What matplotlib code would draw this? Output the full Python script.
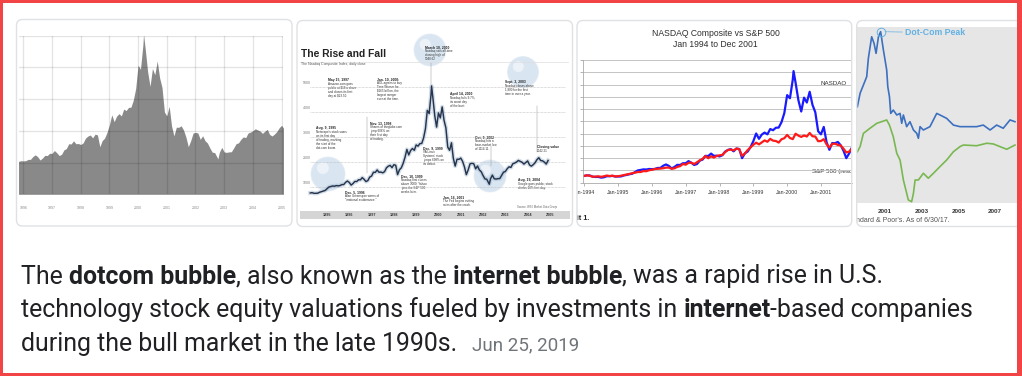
import matplotlib
matplotlib.use("Agg")
import matplotlib.pyplot as plt
from matplotlib.patches import FancyBboxPatch, Rectangle, Circle
from matplotlib.font_manager import FontProperties
from matplotlib.transforms import blended_transform_factory

W, H = 1022, 376

# ---------------------------------------------------------------- data
# Nasdaq Composite month-end closes, Dec 1993 .. Sep 2005 (first value at x=1994.0)
nasdaq_start = 1994.0
nasdaq_close = [
    776.8,
    800.5, 792.5, 743.5, 733.8, 735.2, 706.0, 722.2, 765.6, 764.3, 777.5, 750.3, 752.0,
    755.2, 793.7, 817.2, 844.0, 864.6, 933.5, 1001.2, 1020.1, 1043.5, 1036.1, 1059.2, 1052.1,
    1059.8, 1100.1, 1101.4, 1190.5, 1243.4, 1185.0, 1080.6, 1141.5, 1226.9, 1221.5, 1292.6, 1291.0,
    1379.9, 1309.0, 1221.7, 1260.8, 1400.3, 1442.1, 1593.8, 1587.3, 1685.7, 1593.6, 1600.6, 1570.4,
    1619.4, 1770.5, 1835.7, 1868.4, 1778.9, 1894.7, 1872.4, 1499.3, 1693.8, 1771.4, 1949.5, 2192.7,
    2505.9, 2288.0, 2461.4, 2542.9, 2470.5, 2686.1, 2638.5, 2739.4, 2746.2, 2966.4, 3336.2, 4069.3,
    3940.4, 4696.7, 4572.8, 3860.7, 3400.9, 3966.1, 3767.0, 4206.4, 3672.8, 3369.6, 2597.9, 2470.5,
    2772.7, 2151.8, 1840.3, 2116.2, 2110.5, 2160.5, 2027.1, 1805.4, 1498.8, 1690.2, 1930.6, 1950.4,
    1934.0, 1731.5, 1845.4, 1688.2, 1615.7, 1463.2, 1328.3, 1314.9, 1172.1, 1329.8, 1478.8, 1335.5,
    1320.9, 1337.5, 1341.2, 1464.3, 1595.9, 1622.8, 1735.0, 1810.5, 1786.9, 1932.2, 1960.3, 2003.4,
    2066.2, 2029.8, 1994.2, 1920.2, 1986.7, 2047.8, 1887.4, 1838.1, 1896.8, 1975.0, 2096.8, 2175.4,
    2062.4, 2051.7, 1999.2, 1921.7, 2068.2, 2057.0, 2184.8, 2152.1, 2151.7,
]
nasdaq_extreme_x = [2000.19, 2002.78]
nasdaq_extreme = [5048.6, 1114.1]

# S&P 500 month-end closes, Dec 1993 .. Dec 2001
sp_close = [
    466.5,
    481.6, 467.1, 445.8, 450.9, 456.5, 444.3, 458.3, 475.5, 462.7, 472.4, 453.7, 459.3,
    470.4, 487.4, 500.7, 514.7, 533.4, 544.8, 562.1, 561.9, 584.4, 581.5, 605.4, 615.9,
    636.0, 640.4, 645.5, 654.2, 669.1, 670.6, 640.0, 652.0, 687.3, 705.3, 757.0, 740.7,
    786.2, 790.8, 757.1, 801.3, 848.3, 885.1, 954.3, 899.5, 947.3, 914.6, 955.4, 970.4,
    980.3, 1049.3, 1101.8, 1111.8, 1090.8, 1133.8, 1120.7, 957.3, 1017.0, 1098.7, 1163.6, 1229.2,
    1279.6, 1238.3, 1286.4, 1335.2, 1301.8, 1372.7, 1328.7, 1320.4, 1282.7, 1362.9, 1388.9, 1469.3,
    1394.5, 1366.4, 1498.6, 1452.4, 1420.6, 1454.6, 1430.8, 1517.7, 1436.5, 1429.4, 1315.2, 1320.3,
    1366.0, 1239.9, 1160.3, 1249.5, 1255.8, 1224.4, 1211.2, 1133.6, 1040.9, 1059.8, 1139.5, 1148.1,
]

# panel 1 / 2 / 3 tick labels
p1_years = [1996, 1997, 1998, 1999, 2000, 2001, 2002, 2003, 2004, 2005]
p2_years = [1995, 1996, 1997, 1998, 1999, 2000, 2001, 2002, 2003, 2004, 2005]
p2_levels = [1000, 2000, 3000, 4000, 5000]
p3_years = [1994, 1995, 1996, 1997, 1998, 1999, 2000, 2001]
p3_levels = [500, 1000, 1500, 2000, 2500, 3000, 3500, 4000, 4500, 5000, 5500]

# panel 4 (valuation lines, 0-100 scale)
p4_blue_x = [1999.49, 1999.64, 1999.82, 2000.0, 2000.09, 2000.27, 2000.4, 2000.51, 2000.64,
             2000.76, 2000.91, 2001.09, 2001.15, 2001.24, 2001.31, 2001.45, 2001.64, 2001.82,
             2001.91, 2002.0, 2002.18, 2002.36, 2002.55, 2002.73, 2002.82, 2002.91, 2003.09,
             2003.45, 2003.82, 2004.0, 2004.36, 2004.73, 2005.09, 2005.45, 2006.0, 2006.36,
             2006.73, 2007.09, 2007.45, 2007.82, 2008.09]
p4_blue_y = [54.7, 62.3, 67.0, 71.7, 82.1, 94.3, 90.6, 84.9, 94.3, 97.2, 86.8, 75.5, 66.0,
             60.4, 50.9, 52.8, 50.0, 50.9, 45.3, 50.0, 43.4, 46.2, 41.5, 39.6, 36.8, 43.4,
             41.5, 43.4, 50.9, 50.0, 48.1, 44.3, 43.4, 43.4, 43.4, 44.3, 41.5, 44.3, 42.5,
             47.2, 46.2]
p4_green_x = [1999.49, 1999.64, 1999.82, 2000.18, 2000.55, 2001.09, 2001.24, 2001.45, 2001.64,
              2001.82, 2002.0, 2002.18, 2002.27, 2002.45, 2002.55, 2002.64, 2002.82, 2003.09,
              2003.36, 2003.64, 2004.0, 2004.36, 2004.73, 2005.09, 2005.27, 2006.0, 2006.55,
              2006.91, 2007.27, 2007.64, 2008.09]
p4_green_y = [29.2, 32.1, 39.6, 42.5, 45.3, 47.2, 44.3, 37.7, 28.3, 24.5, 13.2, 5.7, 1.9, 0.9,
              5.7, 13.2, 13.2, 17.0, 14.2, 17.0, 20.8, 24.5, 29.2, 32.1, 33.0, 32.6, 34.0,
              33.6, 32.1, 30.6, 33.0]
p4_years = [2001, 2003, 2005, 2007]

# paragraph
para_lines = [
    [("The ", False), ("dotcom bubble", True), (", also known as the ", False),
     ("internet bubble", True), (", was a rapid rise in U.S.", False)],
    [("technology stock equity valuations fueled by investments in ", False),
     ("internet", True), ("-based companies", False)],
    [("during the bull market in the late 1990s.", False)],
]
para_date = "Jun 25, 2019"

# ---------------------------------------------------------------- helpers
nas_x = [nasdaq_start + i / 12 for i in range(len(nasdaq_close))]
nas_pts = sorted(zip(nas_x + nasdaq_extreme_x, nasdaq_close + nasdaq_extreme))
sp_x = [nasdaq_start + i / 12 for i in range(len(sp_close))]
sp_scale = nasdaq_close[0] / sp_close[0]
sp_rescaled = [v * sp_scale for v in sp_close]


def series(lo, hi):
    xs = [p[0] for p in nas_pts if lo <= p[0] <= hi]
    ys = [p[1] for p in nas_pts if lo <= p[0] <= hi]
    return xs, ys


fig = plt.figure(figsize=(W / 100, H / 100), dpi=100)
fig.patch.set_facecolor("white")


def px_axes(x0, y0, x1, y1):
    return fig.add_axes([x0 / W, 1 - y1 / H, (x1 - x0) / W, (y1 - y0) / H])


def canvas(x0, y0, x1, y1):
    ax = px_axes(x0, y0, x1, y1)
    ax.set_xlim(x0, x1)
    ax.set_ylim(y1, y0)
    ax.axis("off")
    return ax


SANS = "Liberation Sans"

# ---------------------------------------------------------------- panel 1
c1 = canvas(16, 19, 292, 226)
a1 = px_axes(19, 35.7, 283, 194.3)
a1.set_facecolor("none")
x1s, y1s = series(1995.8, 2005.1)
a1.fill_between(x1s, y1s, 0, color="#898989", lw=0, zorder=1)
a1.set_xlim(1995.85, 2005.05)
a1.set_ylim(0, 5000)
a1.set_xticks(p1_years)
a1.set_xticklabels([str(y) for y in p1_years], fontsize=2.6, color="#8a8a8a", family=SANS)
a1.set_yticks(range(0, 5001, 1000))
a1.set_yticklabels([])
a1.tick_params(length=0, pad=8.5)
a1.grid(True, color="k", alpha=0.11, lw=0.9)
a1.set_axisbelow(False)
for s in a1.spines.values():
    s.set_visible(False)

# ---------------------------------------------------------------- panel 2
c2 = canvas(297, 19, 572, 226)
a2 = px_axes(300, 66, 568, 211)
a2.set_facecolor("none")
a2.axis("off")
a2.set_xlim(1994.29, 2006.31)
a2.set_ylim(44, 5844)
a2.hlines(p2_levels, 1994.74, 2006.17, colors="#bbbbbb", linestyles=(0, (1, 1)), lw=0.5)
for v in p2_levels:
    a2.text(1994.42, v + 90, str(v), fontsize=2.5, color="#777777", va="bottom", family=SANS)
x2s, y2s = series(1994.74, 2005.42)
a2.plot(x2s, y2s, color="#9fb6cc", lw=3.0, alpha=0.45, solid_joinstyle="round")
a2.plot(x2s, y2s, color="#26344d", lw=1.05)

c2.add_patch(Rectangle((300, 211), 270, 7.5, fc="#d5d5d5", ec="none"))
bt2 = blended_transform_factory(a2.transData, c2.transData)
for y in p2_years:
    a2.text(y + 0.5, 214.8, str(y), transform=bt2, fontsize=2.7, fontweight="bold",
            color="#333333", ha="center", va="center", family=SANS, clip_on=False)

c2.plot([300, 568], [62, 62], color="#dddddd", lw=0.5)
c2.text(300.7, 54, "The Rise and Fall", fontsize=7.4, fontweight="bold", color="#222222",
        va="center", family=SANS, clip_on=True)
c2.text(300.7, 64.5, "The Nasdaq Composite Index, daily close", fontsize=2.5,
        color="#555555", va="center", family=SANS, clip_on=True)

p2_bubbles = [(430, 50, 16), (523, 72, 15.5), (328, 174, 17), (490, 176, 16)]
for bx, by, br in p2_bubbles:
    c2.add_patch(Circle((bx, by), br, fc="#c3d7e9", ec="#e2ebf3", lw=0.8, alpha=0.62, zorder=1))
    c2.add_patch(Circle((bx - br * 0.3, by - br * 0.35), br * 0.35, fc="white", ec="none",
                        alpha=0.5, zorder=1.1))

p2_leaders = [(367, 117, 173), (431, 63, 84), (491, 146, 166), (537, 106, 152)]
for lx, ly0, ly1 in p2_leaders:
    c2.plot([lx, lx], [ly0, ly1], color="#8a8a8a", lw=0.3, zorder=2)

p2_notes = [
    (328, 78, "May 15, 1997", "Amazon.com goes\npublic at $18 a share\nand closes its first\nday at $23.50."),
    (377, 77, "Jan. 10, 2000:", "AOL agrees to buy\nTime Warner for\n$165 billion, the\nlargest merger\never at the time."),
    (425, 45, "March 10, 2000", "Nasdaq sets all-time\nclosing high of\n5048.62"),
    (450, 92, "April 14, 2000", "Nasdaq falls 9.7%,\nits worst day\nof the bust."),
    (505, 80, "Sept. 3, 2003", "Nasdaq closes above\n1,800 for the first\ntime in over a year."),
    (316, 126, "Aug. 9, 1995", "Netscape's stock soars\non its first day\nof trading, marking\nthe start of the\ndot-com boom."),
    (370, 121, "Nov. 13, 1998", "Shares of theglobe.com\njump 606% on\ntheir first day\nof trading."),
    (423, 146, "Dec. 9, 1999", "VA Linux\nSystems' stock\njumps 698% on\nits debut."),
    (475, 135, "Oct. 9, 2002", "Nasdaq hits a\nbear-market low\nof 1114.11."),
    (537, 145, "Closing value", "2042.21"),
    (345, 190, "Dec. 5, 1996", "Alan Greenspan warns of\n\"irrational exuberance.\""),
    (401, 174, "Dec. 10, 1999", "Nasdaq first closes\nabove 3000; Yahoo\njoins the S&P 500\nweeks later."),
    (443, 195, "Jan. 16, 2001", "The Fed begins cutting\nrates after the crash."),
    (518, 178, "Aug. 19, 2004", "Google goes public; stock\nclimbs 18% first day."),
]
for nx, ny, head, body in p2_notes:
    c2.text(nx, ny, head, fontsize=2.4, fontweight="bold", color="#222222", va="top",
            family=SANS, clip_on=True, zorder=3)
    c2.text(nx, ny + 3.7, body, fontsize=2.2, color="#333333", va="top", linespacing=1.05,
            family=SANS, clip_on=True, zorder=3)
c2.text(517, 207, "Source: WSJ Market Data Group", fontsize=2.0, color="#666666",
        va="center", family=SANS, clip_on=True)

# ---------------------------------------------------------------- panel 3
c3 = canvas(577, 19, 852, 226)
a3 = px_axes(583.3, 60, 851.7, 182.7)
a3.set_facecolor("none")
a3.set_xlim(1993.97, 2001.91)
a3.set_ylim(500, 5500)
a3.set_yticks(p3_levels)
a3.set_yticklabels([])
a3.set_xticks(p3_years)
a3.set_xticklabels([])
a3.grid(axis="y", color="#c4c4c4", lw=0.7)
a3.set_axisbelow(True)
a3.tick_params(length=2, width=0.5, color="#999999")
for k in ("top", "right"):
    a3.spines[k].set_visible(False)
for k in ("left", "bottom"):
    a3.spines[k].set_color("#aaaaaa")
    a3.spines[k].set_linewidth(0.6)
x3s, y3s = series(1993.9, 2002.01)
a3.plot(x3s, y3s, color="#1a1aff", lw=1.6, solid_joinstyle="round")
a3.plot(sp_x, sp_rescaled, color="#ff1a1a", lw=1.6, solid_joinstyle="round")

bt3 = blended_transform_factory(a3.transData, c3.transData)
for y in p3_years:
    t = a3.text(y, 193, "Jan-%d" % y, transform=bt3, fontsize=3.8, color="#333333",
                ha="center", va="center", family=SANS, clip_on=True)
    t.set_clip_path(c3.patch)
c3.text(715.8, 33, "NASDAQ Composite vs S&P 500", fontsize=6.2, color="#2e2e2e",
        ha="center", va="center", family=SANS, clip_on=True)
c3.text(715.8, 44.7, "Jan 1994 to Dec 2001", fontsize=6.2, color="#2e2e2e",
        ha="center", va="center", family=SANS, clip_on=True)
c3.text(820, 83, "NASDAQ", fontsize=4.5, color="#333333", va="center", family=SANS,
        clip_on=True)
c3.text(811.7, 171, "S&P 500 (rescaled)", fontsize=4.5, color="#333333", va="center",
        family=SANS, clip_on=True, zorder=5)
c3.text(589.6, 218.5, "Exhibit 1.", fontsize=5.2, fontweight="bold", color="#222222",
        ha="right", va="center", family=SANS, clip_on=True)

# ---------------------------------------------------------------- panel 4
c4 = canvas(857, 19, 1017, 226)
a4 = px_axes(857, 26.7, 1017, 203.3)
a4.set_facecolor("#e6e6e6")
a4.set_xlim(1999.47, 2008.2)
a4.set_ylim(0, 100)
for s in a4.spines.values():
    s.set_visible(False)
a4.set_yticks([])
a4.set_xticks(p4_years)
a4.set_xticklabels([str(y) for y in p4_years], fontsize=4.6, fontweight="bold",
                   color="#3a3a3a", family=SANS)
a4.tick_params(length=0, pad=3.8)
a4.plot(p4_green_x, p4_green_y, color="#79b851", lw=1.2, solid_joinstyle="round")
a4.plot(p4_blue_x, p4_blue_y, color="#3e70c0", lw=1.2, solid_joinstyle="round")
ipk = p4_blue_y.index(max(p4_blue_y))
a4.plot([p4_blue_x[ipk]], [p4_blue_y[ipk]], "o", ms=6.2, mfc="none", mec="#62b1e4", mew=0.7)
a4.annotate("Dot-Com Peak", xy=(p4_blue_x[ipk], p4_blue_y[ipk]), xytext=(17.5, -0.7),
            textcoords="offset points", fontsize=6.3, fontweight="bold", color="#62b1e4",
            va="center", family=SANS,
            arrowprops=dict(arrowstyle="-", linestyle=(0, (1, 1)), color="#62b1e4", lw=0.6,
                            shrinkA=0, shrinkB=3.2))
c4.text(950, 221, "Source: Bloomberg, Standard & Poor's. As of 6/30/17.", fontsize=5.0,
        color="#555555", ha="right", va="center", family=SANS, clip_on=True)

# ---------------------------------------------------------------- overlay
ov = px_axes(0, 0, W, H)
ov.set_xlim(0, W)
ov.set_ylim(H, 0)
ov.axis("off")

for (x0, y0, x1, y1) in [(16.5, 19.5, 292, 226), (297, 20.5, 572.5, 226.5),
                         (577, 20.5, 851.7, 226.5), (856.7, 20.5, 1035, 226.5)]:
    ov.add_patch(FancyBboxPatch((x0, y0), x1 - x0, y1 - y0,
                                boxstyle="round,pad=0,rounding_size=6",
                                fc="none", ec="#dfe1e5", lw=1.0))

# paragraph text
renderer = fig.canvas.get_renderer()
TXT = "#202124"


def fprops(size, bold):
    return FontProperties(family="Roboto", weight="bold" if bold else "normal", size=size)


def tw(s, fp):
    w1 = renderer.get_text_width_height_descent("|" + s + "|", fp, False)[0]
    w2 = renderer.get_text_width_height_descent("||", fp, False)[0]
    return w1 - w2


w10 = sum(tw(s, fprops(10, b)) for s, b in para_lines[1])
main_size = 10 * 957.0 / w10
date_size = 10 * 107.0 / tw(para_date, fprops(10, False))
baselines = [283.5, 317.0, 350.5]
x_end = 21
for line, base in zip(para_lines, baselines):
    xc = 21.0
    for s, b in line:
        fp = fprops(main_size, b)
        ov.text(xc, base, s, fontproperties=fp, color=TXT, va="baseline", ha="left")
        xc += tw(s, fp)
    x_end = xc
ov.text(x_end + 15, base, para_date, fontproperties=fprops(date_size, False),
        color="#70757a", va="baseline", ha="left")

# red outer frame
RED = "#f24444"
for r in [(0, 0, 3.2, H), (0, 0, W, 3.2), (1017, 0, 5, H), (0, 372.6, W, 3.4)]:
    ov.add_patch(Rectangle((r[0], r[1]), r[2], r[3], fc=RED, ec="none"))

fig.savefig("out.png", dpi=100, facecolor="white")
